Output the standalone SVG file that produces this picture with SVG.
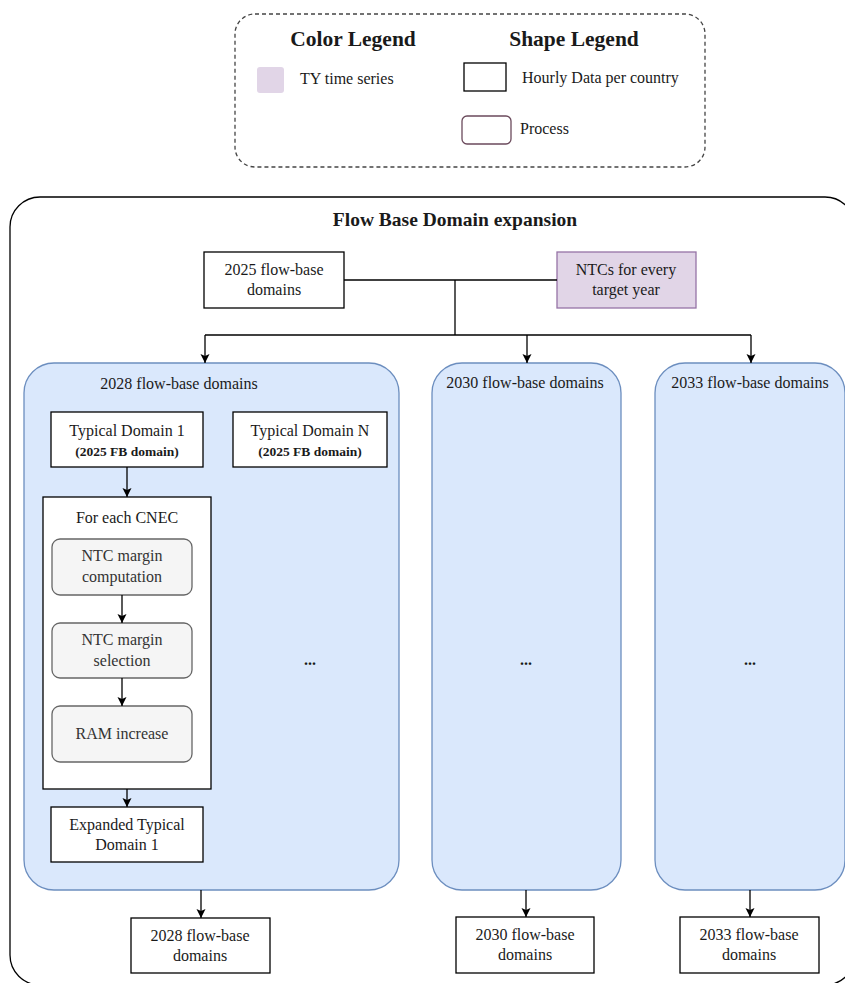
<svg xmlns="http://www.w3.org/2000/svg" width="845" height="983" viewBox="0 0 845 983" font-family="'Liberation Serif', 'Times New Roman', serif" font-size="16">
<defs>
<marker id="arr" markerUnits="userSpaceOnUse" markerWidth="10" markerHeight="10" refX="9" refY="4.5" orient="auto">
<path d="M0,0 L9,4.5 L0,9 L2,4.5 z" fill="#000"/>
</marker>
<style>
text{fill:#1a1a1a}
.c{text-anchor:middle}
.b{font-weight:bold}
.box{fill:#fff;stroke:#000;stroke-width:1.3}
.col{fill:#dae8fc;stroke:#6c8ebf;stroke-width:1.3}
.proc{fill:#f5f5f5;stroke:#666;stroke-width:1.3}
.proc-t{fill:#333}
.ln{fill:none;stroke:#000;stroke-width:1.3}
.ar{fill:none;stroke:#000;stroke-width:1.3;marker-end:url(#arr)}
</style>
</defs>
<rect width="845" height="983" fill="#fff"/>

<g id="legend">
<rect x="235" y="14" width="470" height="153" rx="20" fill="#fff" stroke="#444" stroke-width="1.3" stroke-dasharray="4 3"/>
<text class="c b" x="353" y="46" font-size="21.5">Color Legend</text>
<text class="c b" x="574" y="46" font-size="21.5">Shape Legend</text>
<rect x="257" y="67" width="27" height="26" rx="3" fill="#e1d5e7"/>
<text x="300" y="84">TY time series</text>
<rect x="464" y="63" width="42" height="28" fill="#fff" stroke="#000" stroke-width="1.3"/>
<text x="522" y="83">Hourly Data per country</text>
<rect x="462" y="116" width="49" height="28" rx="5" fill="#fff" stroke="#6b4a5c" stroke-width="1.3"/>
<text x="520" y="134">Process</text>
</g>

<g id="container">
<rect x="10" y="197" width="845" height="788" rx="30" fill="#fff" stroke="#000" stroke-width="1.3"/>
<text class="c b" x="455" y="226" font-size="19.5">Flow Base Domain expansion</text>
</g>

<g id="fb2025">
<rect class="box" x="204" y="252" width="140" height="56"/>
<text class="c" x="274" y="275">2025 flow-base</text>
<text class="c" x="274" y="295">domains</text>
</g>

<g id="ntc">
<rect x="557" y="252" width="139" height="56" fill="#e1d5e7" stroke="#9673a6" stroke-width="1.3"/>
<text class="c" x="626" y="275">NTCs for every</text>
<text class="c" x="626" y="295">target year</text>
</g>

<g id="col2028">
<rect class="col" x="24" y="363" width="375" height="527" rx="30"/>
<text class="c" x="179" y="389">2028 flow-base domains</text>
<text class="c b" x="310" y="665">...</text>
</g>

<g id="col2030">
<rect class="col" x="432" y="363" width="189" height="527" rx="30"/>
<text class="c" x="525" y="388">2030 flow-base domains</text>
<text class="c b" x="526" y="665">...</text>
</g>

<g id="col2033">
<rect class="col" x="655" y="363" width="190" height="527" rx="30"/>
<text class="c" x="750" y="388">2033 flow-base domains</text>
<text class="c b" x="750" y="665">...</text>
</g>

<g id="typ1">
<rect class="box" x="51" y="412" width="152" height="55"/>
<text class="c" x="127" y="436">Typical Domain 1</text>
<text class="c b" x="127" y="456" font-size="13.5">(2025 FB domain)</text>
</g>

<g id="typN">
<rect class="box" x="233" y="412" width="154" height="55"/>
<text class="c" x="310" y="436">Typical Domain N</text>
<text class="c b" x="310" y="456" font-size="13.5">(2025 FB domain)</text>
</g>

<g id="cnec">
<rect class="box" x="43" y="497" width="168" height="292"/>
<text class="c" x="127" y="523">For each CNEC</text>
</g>

<g id="ntcComp">
<rect class="proc" x="52" y="539" width="140" height="56" rx="8"/>
<text class="c proc-t" x="122" y="561">NTC margin</text>
<text class="c proc-t" x="122" y="582">computation</text>
</g>

<g id="ntcSel">
<rect class="proc" x="52" y="623" width="140" height="55" rx="8"/>
<text class="c proc-t" x="122" y="645">NTC margin</text>
<text class="c proc-t" x="122" y="666">selection</text>
</g>

<g id="ram">
<rect class="proc" x="52" y="706" width="140" height="56" rx="8"/>
<text class="c proc-t" x="122" y="739">RAM increase</text>
</g>

<g id="expanded">
<rect class="box" x="51" y="807" width="152" height="55"/>
<text class="c" x="127" y="830">Expanded Typical</text>
<text class="c" x="127" y="850">Domain 1</text>
</g>

<g id="out2028">
<rect class="box" x="131" y="918" width="139" height="55"/>
<text class="c" x="200" y="941">2028 flow-base</text>
<text class="c" x="200" y="961">domains</text>
</g>

<g id="out2030">
<rect class="box" x="456" y="917" width="138" height="56"/>
<text class="c" x="525" y="940">2030 flow-base</text>
<text class="c" x="525" y="960">domains</text>
</g>

<g id="out2033">
<rect class="box" x="680" y="917" width="139" height="56"/>
<text class="c" x="749" y="940">2033 flow-base</text>
<text class="c" x="749" y="960">domains</text>
</g>

<g id="connectors">
<path class="ln" d="M344,280 H557"/>
<path class="ln" d="M455,280 V335"/>
<path class="ln" d="M205,335 H751"/>
<path class="ar" d="M205,335 V363"/>
<path class="ar" d="M527,335 V363"/>
<path class="ar" d="M751,335 V363"/>
<path class="ar" d="M127,467 V497"/>
<path class="ar" d="M122,595 V623"/>
<path class="ar" d="M122,678 V706"/>
<path class="ar" d="M127,789 V807"/>
<path class="ar" d="M201,890 V918"/>
<path class="ar" d="M526,890 V917"/>
<path class="ar" d="M750,890 V917"/>
</g>
</svg>
